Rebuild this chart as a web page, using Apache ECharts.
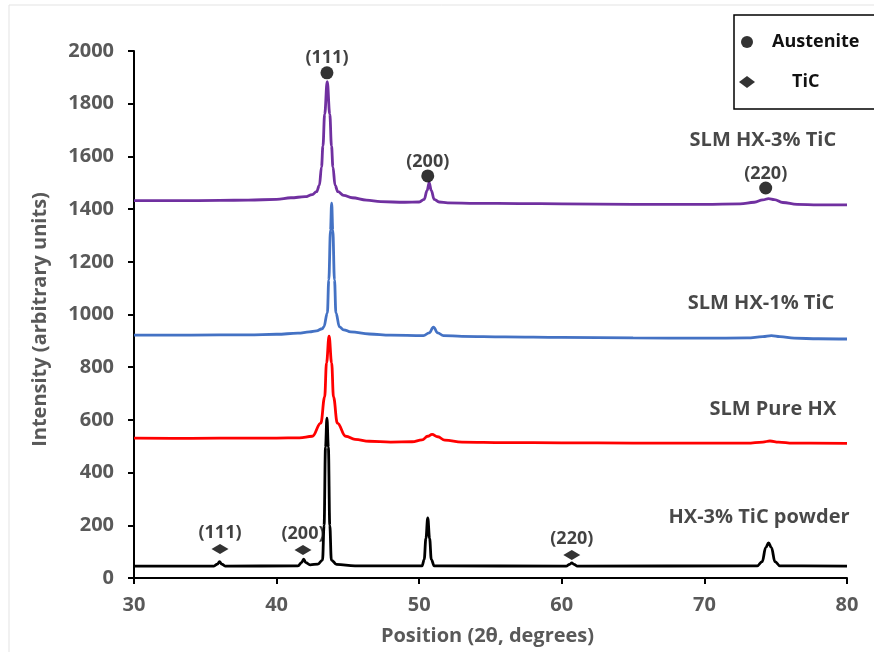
<!DOCTYPE html>
<html>
<head>
<meta charset="utf-8">
<script src="https://cdn.jsdelivr.net/npm/echarts@6/dist/echarts.min.js"></script>
<style>html,body{margin:0;padding:0;background:#fff;overflow:hidden}#c{width:874px;height:652px}</style>
</head>
<body>
<div id="c"></div>
<script>
// ---- data ----
const xTicks = [30, 40, 50, 60, 70, 80];
const yTicks = [0, 200, 400, 600, 800, 1000, 1200, 1400, 1600, 1800, 2000];

const slm3TiC = [[30,1432],[33,1432],[36,1433],[38,1434],[40,1437],[41,1443],[42,1447],[42.5,1455],[42.8,1466],[43.0,1490],[43.15,1560],[43.25,1640],[43.37,1760],[43.55,1884],[43.73,1760],[43.85,1640],[43.95,1560],[44.1,1490],[44.3,1466],[44.7,1452],[45.3,1443],[46.3,1434],[47.3,1428],[49,1426],[50,1427],[50.35,1437],[50.55,1470],[50.7,1500],[50.85,1470],[51.05,1437],[51.4,1427],[52,1424],[54,1422],[57,1421],[60,1420],[65,1418],[70,1418],[72.5,1420],[73.5,1426],[74.1,1435],[74.5,1440],[74.9,1436],[75.5,1425],[76.5,1418],[78,1416],[80,1416]];
const slm1TiC = [[30,922],[34,922],[38,923],[40,925],[41.5,929],[42.3,934],[42.8,938],[43.2,946],[43.31,953],[43.56,1006],[43.66,1131],[43.78,1320],[43.86,1423],[43.94,1320],[44.06,1131],[44.16,1006],[44.41,953],[44.7,942],[45.2,934],[46.5,926],[48,922],[50.3,920],[50.7,930],[51.0,952],[51.3,930],[51.7,920],[53,917],[56,915],[60,913],[65,911],[70,910],[73,911],[74.1,916],[74.7,920],[75.3,916],[76.3,910],[78,908],[80,907]];
const slmPure = [[30,531],[34,530],[38,531],[40,531],[41.6,532],[42.5,538],[43.1,588],[43.37,687],[43.5,816],[43.68,918],[43.86,816],[43.99,687],[44.26,588],[44.85,538],[45.5,526],[46.5,519],[48,516],[49.5,517],[50.2,524],[50.6,538],[50.9,545],[51.3,536],[51.8,523],[53,516],[56,514],[60,513],[65,512],[70,512],[73,512],[74.1,516],[74.6,520],[75.2,516],[76.2,512],[80,511]];
const powder = [[30,45],[35.6,45],[35.85,53],[36.0,62],[36.15,53],[36.4,45],[41.5,46],[41.75,58],[41.9,72],[42.05,58],[42.35,50],[42.9,53],[43.22,68],[43.33,200],[43.43,497],[43.53,607],[43.63,497],[43.73,200],[43.84,68],[44.2,52],[45.5,46],[50.2,46],[50.35,70],[50.47,150],[50.6,228],[50.73,150],[50.85,70],[51.05,46],[60.3,45],[60.55,52],[60.7,57],[60.85,52],[61.1,45],[73.7,46],[74.05,62],[74.3,115],[74.5,133],[74.7,115],[74.95,62],[75.3,46],[80,45]];

const austeniteX = [43.53, 50.6, 74.3];
const austeniteY = [1917, 1526, 1480];
const austeniteLabels = ['(111)', '(200)', '(220)'];
const ticX = [36.03, 41.85, 60.7];
const ticY = [110, 106, 87];
const ticLabels = ['(111)', '(200)', '(220)'];

const curveNames = ['SLM HX-3% TiC', 'SLM HX-1% TiC', 'SLM Pure HX', 'HX-3% TiC powder'];
const curveLabelX = [74.1, 73.97, 74.8, 73.83];
const curveLabelY = [1662, 1044, 641, 231];

// ---- chart ----
const FONT = '"Open Sans", "Liberation Sans", sans-serif';
const chart = echarts.init(document.getElementById('c'), null, {renderer: 'canvas', width: 874, height: 652});

function lineSeries(name, data, color) {
  return {
    name: name, type: 'line', data: data, showSymbol: false, symbol: 'none',
    smooth: 0.4, smoothMonotone: 'x',
    lineStyle: {color: color, width: 2.8}, itemStyle: {color: color},
    z: 2, silent: true
  };
}

const option = {
  animation: false,
  backgroundColor: '#fff',
  textStyle: {fontFamily: FONT},
  grid: {left: 134, top: 51, width: 713, height: 527, containLabel: false},
  xAxis: {
    type: 'value', min: xTicks[0], max: xTicks[xTicks.length - 1], interval: 10,
    name: 'Position (2θ, degrees)', nameLocation: 'middle', nameGap: 48,
    nameTextStyle: {color: '#595959', fontSize: 20, fontWeight: 'bold', fontFamily: FONT, padding: [0, 6, 0, 0]},
    axisLine: {lineStyle: {color: '#000', width: 2}},
    axisTick: {show: true, inside: false, length: 6, lineStyle: {color: '#000', width: 2}},
    axisLabel: {color: '#595959', fontSize: 20, fontWeight: 'bold', margin: 17, fontFamily: FONT},
    splitLine: {show: false}
  },
  yAxis: {
    type: 'value', min: yTicks[0], max: yTicks[yTicks.length - 1], interval: 200,
    name: 'Intensity (arbitrary units)', nameLocation: 'middle', nameGap: 84, nameRotate: 90,
    nameTextStyle: {color: '#595959', fontSize: 20, fontWeight: 'bold', fontFamily: FONT, padding: [0, 10, 0, 0]},
    axisLine: {show: true, lineStyle: {color: '#000', width: 2}},
    axisTick: {show: true, inside: false, length: 6, lineStyle: {color: '#000', width: 2}},
    axisLabel: {color: '#595959', fontSize: 20, fontWeight: 'bold', margin: 20, fontFamily: FONT,
      formatter: function (v) { return String(v); }},
    splitLine: {show: false}
  },
  legend: {
    data: ['Austenite', 'TiC'],
    orient: 'vertical', left: 734, top: 15,
    padding: [18, 60, 18, 5], itemGap: 22,
    itemWidth: 16, itemHeight: 12,
    borderColor: '#000', borderWidth: 1.5, backgroundColor: '#fff',
    selectedMode: false,
    formatter: function (n) { return n === 'TiC' ? '{t|' + n + '}' : '{a|' + n + '}'; },
    textStyle: {
      color: '#111', fontSize: 18, fontWeight: 'bold', fontFamily: FONT,
      rich: {
        a: {fontSize: 18, fontWeight: 'bold', fontFamily: FONT, color: '#111', padding: [0, 0, 0, 12]},
        t: {fontSize: 18, fontWeight: 'bold', fontFamily: FONT, color: '#111', padding: [0, 0, 0, 32]}
      }
    }
  },
  graphic: [
    {type: 'line', shape: {x1: 9, y1: 5, x2: 874, y2: 5}, style: {stroke: '#e3e3e3', lineWidth: 1}, silent: true},
    {type: 'line', shape: {x1: 9, y1: 5, x2: 9, y2: 652}, style: {stroke: '#e3e3e3', lineWidth: 1}, silent: true}
  ],
  series: [
    lineSeries('powder', powder, '#000000'),
    lineSeries('pure', slmPure, '#FF0000'),
    lineSeries('1tic', slm1TiC, '#4472C4'),
    lineSeries('3tic', slm3TiC, '#7030A0'),
    {
      name: 'Austenite', type: 'scatter', symbol: 'circle', symbolSize: 13,
      itemStyle: {color: '#000'}, z: 5,
      data: austeniteX.map((x, i) => ({value: [x, austeniteY[i]], label: {formatter: austeniteLabels[i]}})),
      label: {show: true, position: 'top', distance: -1, color: '#111', fontSize: 18, fontWeight: 'bold', fontFamily: FONT}
    },
    {
      name: 'TiC', type: 'scatter', symbol: 'diamond', symbolSize: [17, 10],
      itemStyle: {color: '#000'}, z: 5,
      data: ticX.map((x, i) => ({value: [x, ticY[i]], label: {formatter: ticLabels[i]}})),
      label: {show: true, position: 'top', distance: 2, color: '#111', fontSize: 18, fontWeight: 'bold', fontFamily: FONT}
    },
    {
      name: 'curveLabels', type: 'scatter', symbol: 'circle', symbolSize: 1, z: 6,
      itemStyle: {color: 'rgba(0,0,0,0)'},
      data: curveNames.map((n, i) => ({value: [curveLabelX[i], curveLabelY[i]], label: {formatter: n}})),
      label: {show: true, position: 'inside', color: '#1a1a1a', fontSize: 20, fontWeight: 'bold', fontFamily: FONT}
    }
  ]
};
chart.setOption(option);
</script>
</body>
</html>
